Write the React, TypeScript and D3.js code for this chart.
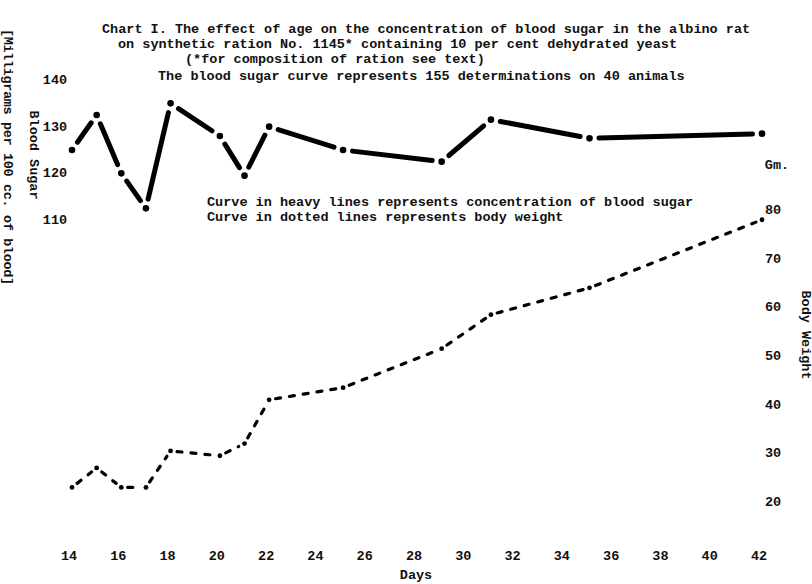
import React, { useEffect, useRef } from 'react';
import * as d3 from 'd3';

// days on which determinations were made
const days = [14, 15, 16, 17, 18, 20, 21, 22, 25, 29, 31, 35, 42];
// mg per 100 cc. of blood
const bloodSugar = [125, 132.5, 120, 112.5, 135, 128, 119.5, 130, 125, 122.5, 131.5, 127.5, 128.5];
// body weight, Gm.
const bodyWeight = [23, 27, 23, 23, 30.5, 29.5, 32, 41, 43.5, 51.5, 58.5, 64, 78];

const dayTicks = [14, 16, 18, 20, 22, 24, 26, 28, 30, 32, 34, 36, 38, 40, 42];
const sugarTicks = [140, 130, 120, 110];
const weightTicks = [80, 70, 60, 50, 40, 30, 20];

const titleLines = [
    'Chart I. The effect of age on the concentration of blood sugar in the albino rat',
    'on synthetic ration No. 1145* containing 10 per cent dehydrated yeast',
    '(*for composition of ration see text)',
    'The blood sugar curve represents 155 determinations on 40 animals'
];
const noteLines = [
    'Curve in heavy lines represents concentration of blood sugar',
    'Curve in dotted lines represents body weight'
];

const FONT = '"Liberation Mono", "DejaVu Sans Mono", monospace';

export default function App() {
    const ref = useRef<SVGSVGElement>(null);

    useEffect(() => {
        const svg = d3.select(ref.current);
        svg.selectAll('*').remove();

        let width = 812, height = 584;
        svg.attr('width', width).attr('height', height);

        svg.append('rect').attr('width', width).attr('height', height).attr('fill', '#fff');

        // scales
        let xScale = d3.scaleLinear().domain([14, 42]).range([72, 762]);
        let sugarScale = d3.scaleLinear().domain([110, 140]).range([220, 80]);
        let weightScale = d3.scaleLinear().domain([20, 80]).range([502, 210]);

        let text = svg.append('g')
            .attr('font-family', FONT)
            .attr('font-weight', 'bold')
            .attr('font-size', 13.5)
            .attr('fill', '#111');

        // title block
        let titleX = [102, 118, 185, 158];
        let titleY = [33, 47.5, 63, 80];
        titleLines.forEach((t, i) => {
            text.append('text').attr('x', titleX[i]).attr('y', titleY[i]).text(t);
        });

        // legend notes
        noteLines.forEach((t, i) => {
            text.append('text').attr('x', 207).attr('y', 206 + i * 15).text(t);
        });

        // left axis labels
        sugarTicks.forEach(v => {
            text.append('text')
                .attr('x', 55)
                .attr('y', sugarScale(v) + 4)
                .attr('text-anchor', 'middle')
                .text(v);
        });
        text.append('text')
            .attr('transform', 'translate(33,155) rotate(90)')
            .attr('text-anchor', 'middle')
            .attr('dominant-baseline', 'central')
            .text('Blood Sugar');
        text.append('text')
            .attr('transform', 'translate(7,157) rotate(90)')
            .attr('text-anchor', 'middle')
            .attr('dominant-baseline', 'central')
            .attr('textLength', 256)
            .attr('lengthAdjust', 'spacing')
            .text('[Milligrams per 100 cc. of blood]');

        // right axis labels
        text.append('text').attr('x', 777).attr('y', 169).attr('text-anchor', 'middle').text('Gm.');
        weightTicks.forEach(v => {
            text.append('text')
                .attr('x', 773)
                .attr('y', weightScale(v) + 4)
                .attr('text-anchor', 'middle')
                .text(v);
        });
        text.append('text')
            .attr('transform', 'translate(805,335) rotate(90)')
            .attr('text-anchor', 'middle')
            .attr('dominant-baseline', 'central')
            .text('Body Weight');

        // bottom axis labels
        dayTicks.forEach(d => {
            text.append('text')
                .attr('x', xScale(d) - 3)
                .attr('y', 560)
                .attr('text-anchor', 'middle')
                .text(d);
        });
        text.append('text').attr('x', 416).attr('y', 579).attr('text-anchor', 'middle').text('Days');

        // draw a curve as separate segments broken short of each point, with a dot at the point
        function drawBroken(pts, gap, width, dash, r) {
            let g = svg.append('g');
            for (let i = 0; i < pts.length - 1; i++) {
                let p = pts[i], q = pts[i + 1];
                let dx = q[0] - p[0], dy = q[1] - p[1];
                let len = Math.sqrt(dx * dx + dy * dy);
                let ux = dx / len, uy = dy / len;
                g.append('line')
                    .attr('x1', p[0] + ux * gap)
                    .attr('y1', p[1] + uy * gap)
                    .attr('x2', q[0] - ux * gap)
                    .attr('y2', q[1] - uy * gap)
                    .attr('stroke', '#000')
                    .attr('stroke-width', width)
                    .attr('stroke-linecap', 'round')
                    .attr('stroke-dasharray', dash);
            }
            g.selectAll('circle')
                .data(pts)
                .enter().append('circle')
                .attr('cx', d => d[0])
                .attr('cy', d => d[1])
                .attr('r', r)
                .attr('fill', '#000');
        }

        let sugarPts = days.map((d, i) => [xScale(d), sugarScale(bloodSugar[i])]);
        let weightPts = days.map((d, i) => [xScale(d), weightScale(bodyWeight[i])]);

        drawBroken(sugarPts, 9.5, 5, null, 3.3);
        drawBroken(weightPts, 6.5, 3.2, '5,9', 2.4);
    }, []);

    return (
        <svg ref={ref} style={{ position: 'absolute', left: 0, top: 0 }}></svg>
    );
}
